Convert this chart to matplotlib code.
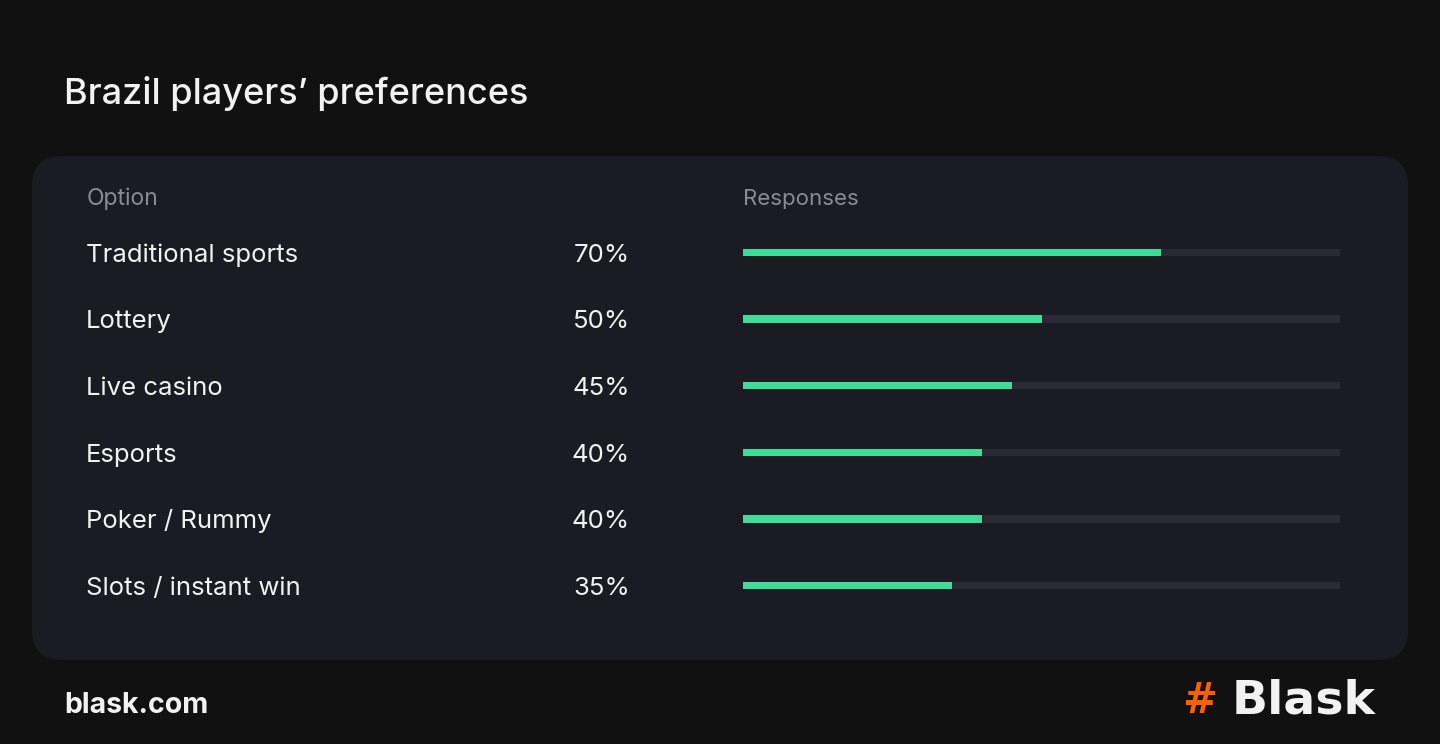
import matplotlib
matplotlib.use("Agg")
import matplotlib.pyplot as plt
from matplotlib.patches import FancyBboxPatch

# ---- data ----
options = ["Traditional sports", "Lottery", "Live casino", "Esports", "Poker / Rummy", "Slots / instant win"]
responses = [70, 50, 45, 40, 40, 35]
title = "Brazil players\u2019 preferences"
col_option = "Option"
col_responses = "Responses"
footer_left = "blask.com"
brand = "Blask"

# ---- style ----
W, H = 1440, 744
BG = "#111111"
PANEL = "#1b1b24"
TRACK = "#2a2a35"
GREEN = "#3ddc97"
GRAY = "#8b8b96"
WHITE = "#f2f2f2"
ORANGE = "#ff5f00"
FONT = ["Inter", "DejaVu Sans"]

fig = plt.figure(figsize=(W / 100, H / 100), dpi=100, facecolor=BG)
bg = fig.add_axes([0, 0, 1, 1])
bg.set_xlim(0, W)
bg.set_ylim(H, 0)
bg.axis("off")

panel = FancyBboxPatch((32, 156), 1376, 504, boxstyle="round,pad=0,rounding_size=30",
                       facecolor=PANEL, edgecolor="none")
bg.add_patch(panel)

bg.text(64, 104, title, color=WHITE, fontsize=26, fontweight="medium",
        family=FONT, va="baseline", ha="left")
bg.text(87, 205, col_option, color=GRAY, fontsize=16.5, family=FONT, va="baseline", ha="left")
bg.text(743, 205, col_responses, color=GRAY, fontsize=16, family=FONT, va="baseline", ha="left")

row0, step = 253.3, 66.6
for i, (opt, val) in enumerate(zip(options, responses)):
    yb = row0 + i * step + 8.5
    bg.text(86, yb, opt, color=WHITE, fontsize=18.5, family=FONT, va="baseline", ha="left")
    bg.text(630, yb, f"{val}%", color=WHITE, fontsize=18.5, family=FONT, va="baseline", ha="right")

# bar axes: 743..1340 px horizontally, rows 220..620 px vertically
ax = fig.add_axes([743 / W, 1 - 619 / H, (1340 - 743) / W, 400 / H])
ax.set_xlim(0, 100)
ax.set_ylim(len(options) - 0.5, -0.5)
ax.axis("off")
ypos = list(range(len(options)))
bh = 7.5 / 66.6
ax.barh(ypos, [100] * len(options), height=bh, color=TRACK, edgecolor="none")
ax.barh(ypos, responses, height=bh, color=GREEN, edgecolor="none")

bg.text(64, 713, footer_left, color=WHITE, fontsize=20.5, fontweight="bold",
        family=FONT, va="baseline", ha="left")
bg.text(1182, 713, "#", color=ORANGE, fontsize=30, fontweight="bold",
        family=["DejaVu Sans"], va="baseline", ha="left")
bg.text(1376, 713, brand, color=WHITE, fontsize=34, fontweight="bold",
        family=["DejaVu Sans"], va="baseline", ha="right")

fig.savefig("out.png", dpi=100, facecolor=BG)
